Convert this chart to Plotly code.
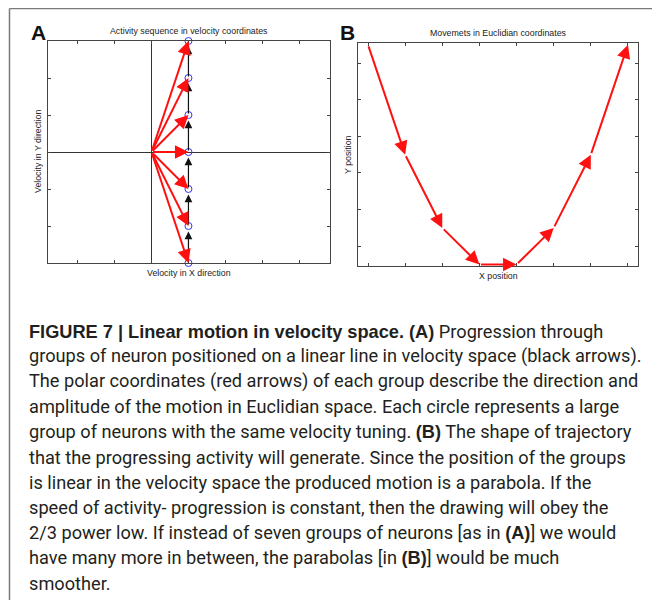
import plotly.graph_objects as go

# panel A: velocity vectors of the seven neuron groups
vel_x = [1, 1, 1, 1, 1, 1, 1]
vel_y = [-3, -2, -1, 0, 1, 2, 3]

# panel B: positions reached by summing the velocities
pos_x = [0, 1, 2, 3, 4, 5, 6, 7]
pos_y = [0, -3, -5, -6, -6, -5, -3, 0]

a_xticks = [-2, -1, 0, 1, 2, 3, 4]
a_yticks = [-2, -1, 0, 1, 2]
b_xticks = [0, 1, 2, 3, 4, 5, 6, 7]
b_yticks = [-0.5, -1.5, -2.5, -3.5, -4.5, -5.5]

B0 = '<span style="font-family:Liberation Sans"><b>'
B1 = '</b></span>'
caption = [
    B0 + "FIGURE 7 | Linear motion in velocity space. (A)" + B1 + " Progression through",
    "groups of neuron positioned on a linear line in velocity space (black arrows).",
    "The polar coordinates (red arrows) of each group describe the direction and",
    "amplitude of the motion in Euclidian space. Each circle represents a large",
    "group of neurons with the same velocity tuning. " + B0 + "(B)" + B1 + " The shape of trajectory",
    "that the progressing activity will generate. Since the position of the groups",
    "is linear in the velocity space the produced motion is a parabola. If the",
    "speed of activity- progression is constant, then the drawing will obey the",
    "2/3 power low. If instead of seven groups of neurons [as in " + B0 + "(A)" + B1 + "] we would",
    "have many more in between, the parabolas [in " + B0 + "(B)" + B1 + "] would be much",
    "smoother.",
]

# the page body has an 8px margin, so the figure is drawn 8px smaller and shifted
W, H = 652, 592
px = lambda x: (x - 8) / W
py = lambda y: 1 - (y - 8) / H

fig = go.Figure()

# blue circles for the groups
fig.add_trace(go.Scatter(x=vel_x, y=vel_y, mode="markers", cliponaxis=False,
                         marker=dict(symbol="circle-open", size=7, color="#3333ff",
                                     line=dict(width=1)),
                         xaxis="x", yaxis="y", showlegend=False, hoverinfo="skip"))
# invisible trace to hold panel B axes
fig.add_trace(go.Scatter(x=pos_x, y=pos_y, mode="lines", line=dict(width=0),
                         xaxis="x2", yaxis="y2", showlegend=False, hoverinfo="skip"))

ann = []
# black arrows: progression along the line in velocity space
for i in range(1, len(vel_y)):
    ann.append(dict(x=vel_x[i], y=vel_y[i] - 0.15, ax=vel_x[i - 1], ay=vel_y[i - 1],
                    xref="x", yref="y", axref="x", ayref="y", text="",
                    showarrow=True, arrowhead=2, arrowsize=1.3, arrowwidth=1.2,
                    arrowcolor="#111"))
# red arrows: polar coordinates from the origin
for vx, vy in zip(vel_x, vel_y):
    ann.append(dict(x=vx, y=vy, ax=0, ay=0, xref="x", yref="y", axref="x", ayref="y",
                    text="", showarrow=True, arrowhead=2, arrowsize=1.35, arrowwidth=2,
                    arrowcolor="#ff1010"))
# red trajectory in Euclidian space
for i in range(1, len(pos_x)):
    ann.append(dict(x=pos_x[i], y=pos_y[i], ax=pos_x[i - 1], ay=pos_y[i - 1],
                    xref="x2", yref="y2", axref="x2", ayref="y2", text="",
                    showarrow=True, arrowhead=2, arrowsize=1.35, arrowwidth=2,
                    arrowcolor="#ff1010"))

small = dict(family="Liberation Sans, Arial", size=8.8, color="#222")
big = dict(family="Liberation Sans, Arial", size=21, color="#111")
ann += [
    dict(text="Activity sequence in velocity coordinates", x=px(189), y=py(31), font=small),
    dict(text="Movemets in Euclidian coordinates", x=px(498), y=py(33), font=small),
    dict(text="Velocity in X direction", x=px(189), y=py(273), font=small),
    dict(text="X position", x=px(498), y=py(276), font=small),
    dict(text="Velocity in Y direction", x=px(38), y=py(152), font=small, textangle=-90),
    dict(text="Y position", x=px(348), y=py(155), font=small, textangle=-90),
    dict(text="<b>A</b>", x=px(38), y=py(33), font=big),
    dict(text="<b>B</b>", x=px(347), y=py(33), font=big),
]
for a in ann[-8:]:
    a.update(xref="paper", yref="paper", showarrow=False, xanchor="center", yanchor="middle")

for i, line in enumerate(caption):
    ann.append(dict(text=line, x=px(27), y=py(331 + 25.2 * i), xref="paper", yref="paper",
                    xanchor="left", yanchor="middle", showarrow=False,
                    font=dict(family="Roboto", size=18.2, color="#231f20")))

axis_style = dict(showgrid=False, showline=True, linecolor="#444", linewidth=1,
                  mirror="ticks", ticks="inside", ticklen=3, tickcolor="#444",
                  showticklabels=False)

fig.update_layout(
    width=W, height=H, margin=dict(l=0, r=0, t=0, b=0),
    plot_bgcolor="white", paper_bgcolor="white",
    xaxis=dict(domain=[px(48), px(330)], range=[-2.8, 4.83], tickvals=a_xticks,
               zeroline=True, zerolinecolor="#333", zerolinewidth=1, **axis_style),
    yaxis=dict(domain=[py(263), py(41)], range=[-3, 3], tickvals=a_yticks,
               zeroline=True, zerolinecolor="#333", zerolinewidth=1, **axis_style),
    xaxis2=dict(domain=[px(358), px(638)], range=[-0.27, 7.27], tickvals=b_xticks,
                zeroline=False, anchor="y2", **axis_style),
    yaxis2=dict(domain=[py(266), py(43)], range=[-6.04, 0.05], tickvals=b_yticks,
                zeroline=False, anchor="x2", **axis_style),
    annotations=ann,
    shapes=[
        dict(type="line", xref="paper", yref="paper", x0=px(9.5), y0=py(8.5), x1=1, y1=py(8.5),
             line=dict(color="#7a7a7a", width=1.5)),
        dict(type="line", xref="paper", yref="paper", x0=px(9.5), y0=py(8.5), x1=px(9.5), y1=0,
             line=dict(color="#7a7a7a", width=1.5)),
    ],
)

fig.write_html("out.html")
